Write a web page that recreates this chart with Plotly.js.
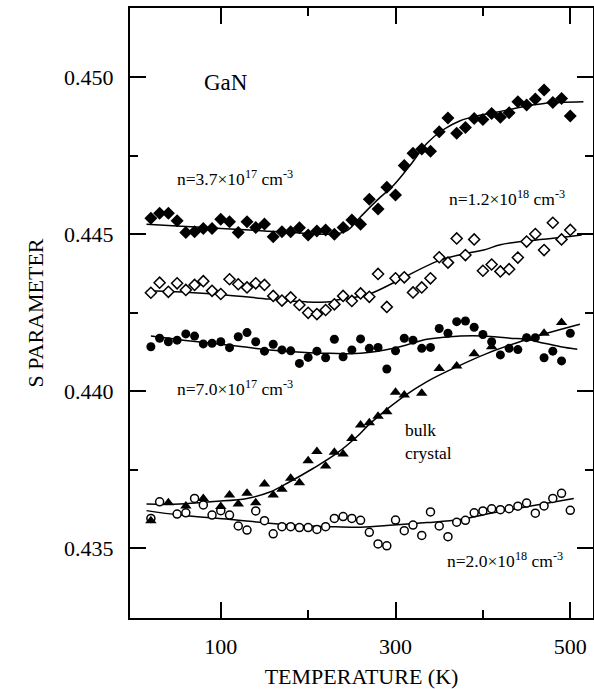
<!DOCTYPE html>
<html>
<head>
<meta charset="utf-8">
<script src="https://cdn.plot.ly/plotly-3.0.1.min.js"></script>
<style>html,body{margin:0;padding:0;background:#fff;}#chart{width:594px;height:689px;}</style>
</head>
<body>
<div id="chart"></div>
<script>
// ---- data: temperature (K) and S parameter ----
const tempFull = [20,30,40,50,60,70,80,90,100,110,120,130,140,150,160,170,180,190,200,210,220,230,240,250,260,270,280,290,300,310,320,330,340,350,360,370,380,390,400,410,420,430,440,450,460,470,480,490,500];

// n=3.7x10^17 cm^-3 (filled diamonds)
const sN37e17 = [0.44550,0.44566,0.44566,0.44542,0.44505,0.44507,0.44518,0.44518,0.44547,0.44539,0.44505,0.44539,0.44521,0.44532,0.44491,0.44507,0.44507,0.44520,0.44497,0.44510,0.44513,0.44499,0.44521,0.44545,0.44531,0.44611,0.44580,0.44649,0.44624,0.44718,0.44757,0.44771,0.44764,0.44826,0.44870,0.44821,0.44839,0.44868,0.44865,0.44884,0.44872,0.44886,0.44921,0.44911,0.44930,0.44959,0.44919,0.44932,0.44876];

// n=1.2x10^18 cm^-3 (open diamonds)
const sN12e18 = [0.44313,0.44345,0.44316,0.44343,0.44322,0.44338,0.44350,0.44319,0.44309,0.44356,0.44340,0.44330,0.44343,0.44338,0.44303,0.44288,0.44298,0.44274,0.44249,0.44245,0.44258,0.44276,0.44303,0.44287,0.44311,0.44300,0.44373,0.44268,0.44359,0.44362,0.44314,0.44330,0.44359,0.44426,0.44409,0.44486,0.44433,0.44483,0.44383,0.44403,0.44381,0.44388,0.44425,0.44476,0.44500,0.44449,0.44536,0.44483,0.44513];

// n=7.0x10^17 cm^-3 (filled circles)
const sN70e17 = [0.44141,0.44168,0.44157,0.44162,0.44182,0.44175,0.44150,0.44152,0.44157,0.44138,0.44173,0.44186,0.44157,0.44127,0.44149,0.44131,0.44128,0.44088,0.44107,0.44127,0.44106,0.44165,0.44109,0.44131,0.44166,0.44136,0.44139,0.44070,0.44128,0.44168,0.44162,0.44136,0.44139,0.44199,0.44184,0.44221,0.44223,0.44203,0.44180,0.44157,0.44115,0.44136,0.44132,0.44170,0.44170,0.44106,0.44127,0.44096,0.44184];

// bulk crystal (filled triangles)
const tempBulk = [20,40,60,80,100,110,120,130,140,150,160,170,180,190,200,210,220,230,240,250,260,270,280,290,300,310,330,350,370,390,410,450,470,490];
const sBulk = [0.43587,0.43644,0.43634,0.43658,0.43632,0.43669,0.43640,0.43674,0.43644,0.43704,0.43669,0.43687,0.43722,0.43708,0.43778,0.43807,0.43761,0.43805,0.43799,0.43849,0.43892,0.43899,0.43920,0.43934,0.43996,0.43987,0.43993,0.44072,0.44080,0.44119,0.44141,0.44168,0.44184,0.44218];

// n=2.0x10^18 cm^-3 (open circles)
const tempN20e18 = [20,30,50,60,70,80,90,100,110,120,130,140,150,160,170,180,190,200,210,220,230,240,250,260,270,280,290,300,310,320,330,340,350,360,370,380,390,400,410,420,430,440,450,460,470,480,490,500];
const sN20e18 = [0.43594,0.43647,0.43608,0.43612,0.43658,0.43637,0.43605,0.43619,0.43605,0.43570,0.43557,0.43618,0.43587,0.43545,0.43568,0.43568,0.43565,0.43565,0.43559,0.43568,0.43594,0.43600,0.43594,0.43588,0.43550,0.43513,0.43507,0.43589,0.43555,0.43573,0.43540,0.43615,0.43570,0.43536,0.43582,0.43588,0.43612,0.43618,0.43625,0.43622,0.43625,0.43633,0.43643,0.43611,0.43634,0.43658,0.43674,0.43620];

// fitted curves
const fitT_N37e17 = [15,60,100,150,200,230,245,260,279,298,317,336,355,374,393,412,431,450,470,515];
const fitS_N37e17 = [0.44531,0.44524,0.44518,0.44510,0.44502,0.44500,0.44512,0.44555,0.44608,0.44656,0.44720,0.44789,0.44833,0.44861,0.44876,0.44886,0.44897,0.44908,0.44916,0.44921];
const fitT_N12e18 = [15,35,105,155,197,225,233,250,271,300,311,351,382,401,420,450,489,513];
const fitS_N12e18 = [0.44318,0.44318,0.44306,0.44293,0.44284,0.44284,0.44290,0.44297,0.44310,0.44348,0.44364,0.44417,0.44439,0.44449,0.44466,0.44478,0.44489,0.44497];
const fitT_N70e17 = [20,57,110,156,202,225,260,298,336,355,374,401,431,450,470,489,508];
const fitS_N70e17 = [0.44175,0.44162,0.44146,0.44131,0.44122,0.44120,0.44120,0.44136,0.44165,0.44171,0.44175,0.44175,0.44168,0.44165,0.44152,0.44141,0.44133];
const fitT_Bulk = [15,53,92,130,157,179,206,233,256,271,309,336,370,405,439,473,511];
const fitS_Bulk = [0.43640,0.43640,0.43648,0.43658,0.43679,0.43711,0.43754,0.43802,0.43855,0.43897,0.43982,0.44030,0.44077,0.44120,0.44154,0.44184,0.44213];
const fitT_N20e18 = [15,53,111,168,225,260,298,336,374,412,450,504];
const fitS_N20e18 = [0.43619,0.43605,0.43591,0.43576,0.43568,0.43566,0.43573,0.43581,0.43591,0.43612,0.43631,0.43658];

// labels
const labelTexts = ['GaN','n=3.7×10<sup>17</sup> cm<sup>-3</sup>','n=1.2×10<sup>18</sup> cm<sup>-3</sup>','n=7.0×10<sup>17</sup> cm<sup>-3</sup>','bulk<br>crystal','n=2.0×10<sup>18</sup> cm<sup>-3</sup>'];
const labelT = [78, 48, 359, 48, 309, 357];
const labelS = [0.44984, 0.44678, 0.44615, 0.44010, 0.43838, 0.43462];

const xTicks = [100, 300, 500];
const yTicks = [0.435, 0.440, 0.445, 0.450];

const FONT = 'Liberation Serif, Times New Roman, serif';
const lineStyle = {color: '#000', width: 1.5, shape: 'spline', smoothing: 1};

function fit(x, y) { return {x: x, y: y, type: 'scatter', mode: 'lines', line: lineStyle, hoverinfo: 'skip', showlegend: false}; }
function pts(x, y, symbol, size, filled) {
  return {x: x, y: y, type: 'scatter', mode: 'markers', showlegend: false,
    marker: {symbol: symbol, size: size, color: filled ? '#000' : '#fff', line: {color: '#000', width: filled ? 0 : 1.5}}};
}

const traces = [
  fit(fitT_N37e17, fitS_N37e17),
  fit(fitT_N12e18, fitS_N12e18),
  fit(fitT_N70e17, fitS_N70e17),
  fit(fitT_Bulk, fitS_Bulk),
  fit(fitT_N20e18, fitS_N20e18),
  pts(tempFull, sN37e17, 'diamond', 10, true),
  pts(tempFull, sN12e18, 'diamond', 8.5, false),
  pts(tempFull, sN70e17, 'circle', 9, true),
  pts(tempN20e18, sN20e18, 'circle', 8, false),
  pts(tempBulk, sBulk, 'triangle-up', 10, true)
];

const annotations = labelTexts.map((t, i) => ({
  x: labelT[i], y: labelS[i], xref: 'x', yref: 'y', text: t, showarrow: false,
  xanchor: 'left', yanchor: 'middle', align: 'left',
  font: {family: FONT, size: i === 0 ? 23 : 17.5, color: '#000'}
}));

const layout = {
  width: 594, height: 689,
  margin: {l: 130, r: 1, t: 8, b: 71},
  paper_bgcolor: '#fff', plot_bgcolor: '#fff',
  font: {family: FONT, color: '#000'},
  showlegend: false,
  xaxis: {
    range: [-3.9, 526], showgrid: false, zeroline: false,
    showline: true, linecolor: '#000', linewidth: 2, mirror: 'ticks',
    ticks: 'inside', ticklen: 16, tickwidth: 2, tickcolor: '#000',
    tickvals: xTicks, ticktext: xTicks.map(String),
    tickfont: {family: FONT, size: 22, color: '#000'},
    ticklabelstandoff: 8,
    minor: {tickvals: [200, 400], ticks: 'inside', ticklen: 8, tickwidth: 2, tickcolor: '#000', showgrid: false},
    title: {text: 'TEMPERATURE (K)', font: {family: FONT, size: 22, color: '#000'}, standoff: 16}
  },
  yaxis: {
    range: [0.43277, 0.45220], showgrid: false, zeroline: false,
    showline: true, linecolor: '#000', linewidth: 2, mirror: 'ticks',
    ticks: 'inside', ticklen: 16, tickwidth: 2, tickcolor: '#000',
    tickvals: yTicks, ticktext: yTicks.map(v => v.toFixed(3)),
    tickfont: {family: FONT, size: 22, color: '#000'},
    ticklabelstandoff: 10,
    minor: {tickvals: [0.4375, 0.4425, 0.4475], ticks: 'inside', ticklen: 8, tickwidth: 2, tickcolor: '#000', showgrid: false},
    title: {text: 'S PARAMETER', font: {family: FONT, size: 22, color: '#000'}, standoff: 14}
  },
  annotations: annotations
};

Plotly.newPlot('chart', traces, layout, {staticPlot: true, displayModeBar: false});
</script>
</body>
</html>
